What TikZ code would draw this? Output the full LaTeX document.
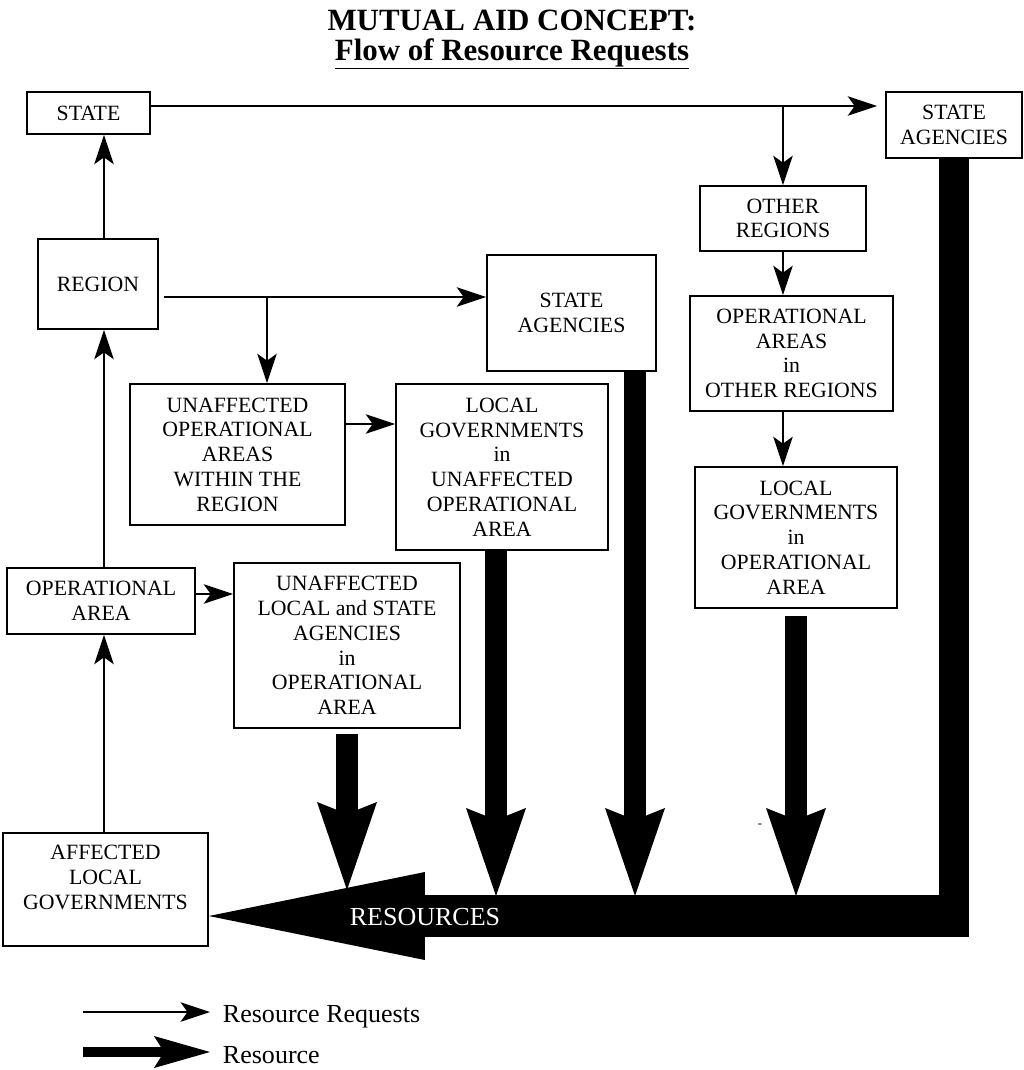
\documentclass[tikz,border=0pt]{standalone}
\usepackage{fontspec}
\setmainfont{Liberation Serif}
\usetikzlibrary{arrows.meta}

\begin{document}
\begin{tikzpicture}[x=0.025cm,y=-0.025cm,
	aid box/.style={draw,line width=1.2pt,align=center,inner sep=0pt,font=\fontsize{15.5}{17.6}\selectfont},
	dims/.style 2 args={minimum width=#1*0.025cm,minimum height=#2*0.025cm},
	request/.style={line width=1.3pt,-{Stealth[length=21pt,width=14pt,inset=5pt,line width=0pt]}},
	resource/.style={line width=0.55cm,-{Stealth[length=2.2cm,width=1.5cm,inset=0.3cm,line width=0pt]}}]
		
		\useasboundingbox (0,0) rectangle (1024,1070);
		
		\node[font=\fontsize{22}{26}\selectfont\bfseries] (title) at (512,20) {MUTUAL AID CONCEPT:};
		\node[font=\fontsize{22}{26}\selectfont\bfseries] (subtitle) at (512,54) {\underline{Flow of Resource Requests}};
		
		\node[aid box,dims={123}{42}] (state) at (88.5,113) {STATE};
		\node[aid box,dims={136}{66}] (sa1) at (954,125) {STATE\\AGENCIES};
		\node[aid box,dims={166}{65}] (other) at (783,218.5) {OTHER\\REGIONS};
		\node[aid box,dims={203}{115}] (opother) at (791.5,353.5) {OPERATIONAL\\AREAS\\in\\OTHER REGIONS};
		\node[aid box,dims={202}{141}] (lgother) at (796,537.5) {LOCAL\\GOVERNMENTS\\in\\OPERATIONAL\\AREA};
		\node[aid box,dims={120}{90}] (region) at (98,284) {REGION};
		\node[aid box,dims={169}{116}] (sa2) at (571.5,313) {STATE\\AGENCIES};
		\node[aid box,dims={215}{141}] (unaffoa) at (237.5,454.5) {UNAFFECTED\\OPERATIONAL\\AREAS\\WITHIN THE\\REGION};
		\node[aid box,dims={212}{166}] (lgunaff) at (502,467) {LOCAL\\GOVERNMENTS\\in\\UNAFFECTED\\OPERATIONAL\\AREA};
		\node[aid box,dims={188}{66}] (oparea) at (101,601) {OPERATIONAL\\AREA};
		\node[aid box,dims={226}{165}] (unafflsa) at (347,645.5) {UNAFFECTED\\LOCAL and STATE\\AGENCIES\\in\\OPERATIONAL\\AREA};
		\node[aid box,dims={205}{113}] (affected) at (105.5,889.5) {AFFECTED\\LOCAL\\GOVERNMENTS\\~};
		
		\coordinate (axis) at (104,0);
		\coordinate (toprow) at (0,106);
		\coordinate (midrow) at (0,297);
		\coordinate (split) at (267,297);
		\coordinate (row3) at (0,424);
		\coordinate (row4) at (0,594);
		\coordinate (bend) at (969,916);
		\coordinate (shafttop) at (0,896);
		\coordinate (headedge) at (0,890);
		
		% requests
		\path[request]
		(region.north -| axis) edge (state.south -| axis)
		(oparea.north -| axis) edge (region.south -| axis)
		(affected.north -| axis) edge (oparea.south -| axis)
		(state.east |- toprow) edge ([xshift=-0.2cm]sa1.west |- toprow)
		(other.north |- toprow) edge (other.north)
		([xshift=0.125cm]region.east |- midrow) edge (sa2.west |- midrow)
		(split) edge (split |- unaffoa.north)
		(unaffoa.east |- row3) edge (lgunaff.west |- row3)
		(oparea.east |- row4) edge (unafflsa.west |- row4)
		(other.south) edge (other.south |- opother.north)
		(opother.south -| other.south) edge (lgother.north -| other.south);
		
		% resources
		\path[resource]
		([yshift=-0.125cm]unafflsa.south) edge (unafflsa.south |- headedge)
		([xshift=-0.15cm]lgunaff.south) edge ([xshift=-0.15cm]lgunaff.south |- shafttop)
		([xshift=1.5875cm]sa2.south) edge ([xshift=1.5875cm]sa2.south |- shafttop)
		([yshift=-0.175cm]lgother.south) edge (lgother.south |- shafttop);
		
		\draw[line width=0.75cm] (sa1.south) -- (sa1.south |- bend);
		\draw[line width=1.05cm,-{Triangle[length=5.4cm,width=2.2cm,line width=0pt]}] (bend) -- (affected.east |- bend);
		\node[text=white,font=\fontsize{18.5}{22}\selectfont] (reslabel) at (425,917) {RESOURCES};
		\node[font=\fontsize{9}{10}\selectfont] (dash) at (760,826) {-};
		
		% legend
		\coordinate (lgreq) at (83,1012);
		\coordinate (lgres) at (83,1052);
		\node[anchor=west,font=\fontsize{18.5}{22}\selectfont] (reqtext) at (218,1017) {Resource Requests};
		\node[anchor=west,font=\fontsize{18.5}{22}\selectfont] (restext) at (218,1055) {Resource};
		\draw[request] (lgreq) -- ([xshift=-0.2cm]reqtext.west |- lgreq);
		\draw[line width=0.25cm,-{Stealth[length=1.4cm,width=0.8cm,inset=0.25cm,line width=0pt]}] (lgres) -- ([xshift=-0.2cm]restext.west |- lgres);
		
		\end{tikzpicture}
\end{document}
